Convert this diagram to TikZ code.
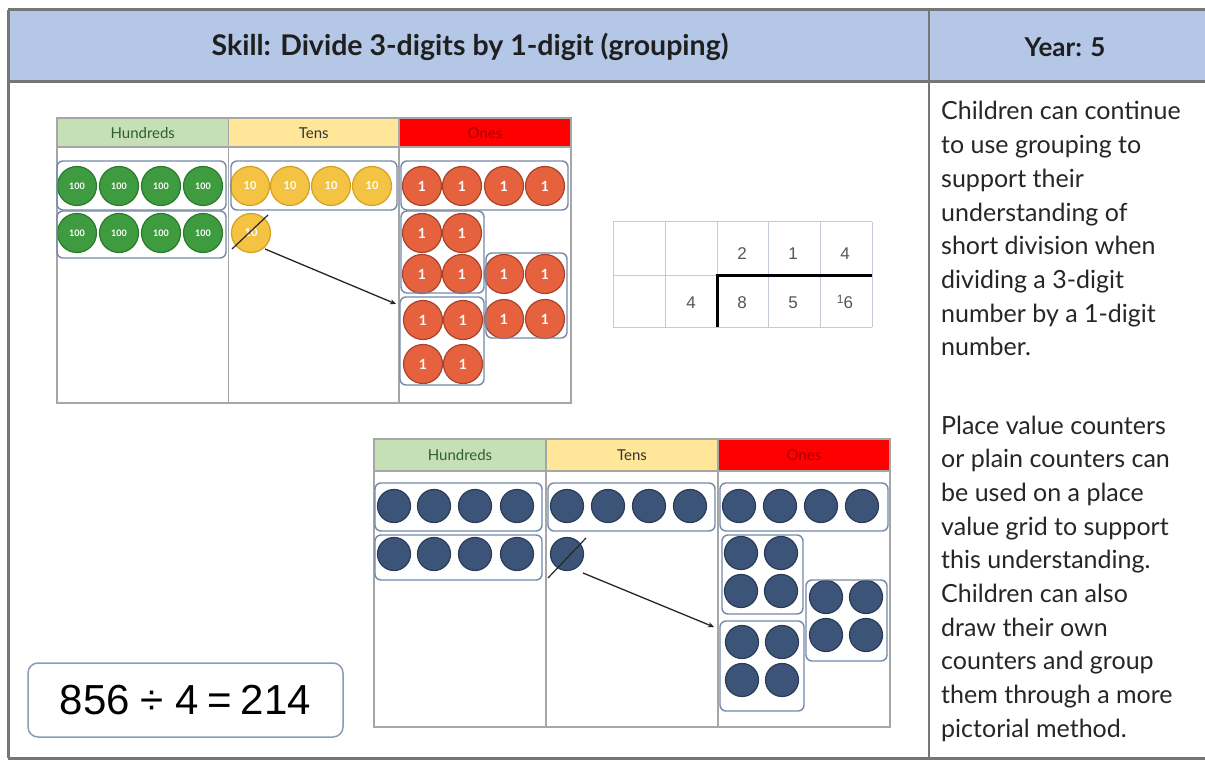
\documentclass[tikz,border=0pt]{standalone}
\usepackage{fontspec}
\setmainfont{Lato}
\newfontfamily\eqfont{Liberation Sans}
\usetikzlibrary{arrows.meta}
\definecolor{hdrblue}{HTML}{B4C7E7}
\definecolor{framegray}{HTML}{767676}
\definecolor{hgreen}{HTML}{C5E0B4}
\definecolor{hyellow}{HTML}{FFE699}
\definecolor{hred}{HTML}{FF0000}
\definecolor{onestext}{HTML}{A50000}
\definecolor{hundtext}{HTML}{2F5F2F}
\definecolor{gridgray}{HTML}{A6A6A6}
\definecolor{grpcol}{HTML}{7489AC}
\definecolor{cgreen}{HTML}{3F9B3F}
\definecolor{cgreendk}{HTML}{2B7A2B}
\definecolor{cyellow}{HTML}{F5C343}
\definecolor{cyellowdk}{HTML}{D6A020}
\definecolor{cred}{HTML}{E6623F}
\definecolor{creddk}{HTML}{A8432B}
\definecolor{cblue}{HTML}{3D5479}
\definecolor{cbluedk}{HTML}{2A3B57}
\definecolor{divgrid}{HTML}{C3CBDA}
\definecolor{divtext}{HTML}{555555}
\definecolor{eqbox}{HTML}{8A9BB5}
\tikzset{
  frameln/.style={draw=framegray,line width=3pt},
  gridln/.style={draw=gridgray,line width=1.5pt},
  grp/.style={draw=grpcol,line width=1.4pt,rounded corners=6pt},
  gc/.style={circle,minimum size=39pt,inner sep=0pt,fill=cgreen,draw=cgreendk,line width=1.2pt,text=white,font=\bfseries\fontsize{9}{9}\selectfont},
  yc/.style={circle,minimum size=39pt,inner sep=0pt,fill=cyellow,draw=cyellowdk,line width=1.2pt,text=white,font=\bfseries\fontsize{11}{11}\selectfont},
  rc/.style={circle,minimum size=39pt,inner sep=0pt,fill=cred,draw=creddk,line width=1.2pt,text=white,font=\bfseries\fontsize{14}{14}\selectfont},
  bc/.style={circle,minimum size=33pt,inner sep=0pt,fill=cblue,draw=cbluedk,line width=1.2pt},
  pvhead/.style={font=\fontsize{15}{15}\selectfont},
  digit/.style={font=\eqfont\fontsize{17}{17}\selectfont,text=divtext,anchor=base},
  desc/.style={anchor=base west,inner sep=0pt,font=\fontsize{25}{25}\selectfont,text=black!85},
  arr/.style={draw=black!85,line width=1.3pt,-{Stealth[length=6pt,width=5pt]}},
  slash/.style={draw=black!85,line width=1.2pt},
}
\begin{document}
\begin{tikzpicture}[x=1pt,y=-1pt]
\useasboundingbox (0,0) rectangle (1205,762);
\fill[white] (0,0) rectangle (1205,762);
% header band
\fill[hdrblue] (8,10) rectangle (1205,82);
\draw[frameln] (8,10) -- (1205,10);
\draw[frameln] (8,82) -- (1205,82);
\draw[frameln] (8,10) -- (8,758);
\draw[frameln] (8,758) -- (1205,758);
\draw[draw=framegray,line width=2pt] (929,10) -- (929,758);
\node[font=\bfseries\fontsize{28.5}{28.5}\selectfont,text=black!88] (title) at (470,47) {Skill: Divide 3-digits by 1-digit (grouping)};
\node[font=\bfseries\fontsize{26}{26}\selectfont,text=black!88] (year) at (1065,47) {Year: 5};

% description text
\foreach \t [count=\i] in {Children can continue,to use grouping to,support their,understanding of,short division when,dividing a 3-digit,number by a 1-digit,number.}
  \node[desc] (pa\i) at (941,{120+(\i-1)*33.7}) {\t};
\foreach \t [count=\i] in {Place value counters,or plain counters can,be used on a place,value grid to support,this understanding.,Children can also,draw their own,counters and group,them through a more,pictorial method.}
  \node[desc] (pb\i) at (941,{434+(\i-1)*33.7}) {\t};

% ===== top place value grid =====
\fill[hgreen] (57,118) rectangle (228.5,147);
\fill[hyellow] (228.5,118) rectangle (399,147);
\fill[hred] (399,118) rectangle (571,147);
\draw[gridln] (57,118) rectangle (571,403);
\draw[gridln] (57,147) -- (571,147);
\draw[gridln] (228.5,118) -- (228.5,403);
\draw[gridln] (399,118) -- (399,403);
\node[pvhead,text=hundtext] (th) at (142.75,133) {Hundreds};
\node[pvhead,text=black!80] (tt) at (313.75,133) {Tens};
\node[pvhead,text=onestext] (to) at (485,133) {Ones};

\foreach \x [count=\i] in {77,119,161,203} {
  \node[gc] (ha\i) at (\x,186) {100};
  \node[gc] (hb\i) at (\x,233) {100};
}
\foreach \x [count=\i] in {250,290,331,372}
  \node[yc] (ta\i) at (\x,186) {10};
\node[yc] (tb1) at (251,233) {10};
\foreach \x [count=\i] in {422,462,504,545}
  \node[rc] (oa\i) at (\x,186) {1};
\foreach \p [count=\i] in {(422,233),(462,233),(422,274),(462,274)}
  \node[rc] (oA\i) at \p {1};
\foreach \p [count=\i] in {(504,274),(545,274),(504,319),(545,319)}
  \node[rc] (oB\i) at \p {1};
\foreach \p [count=\i] in {(423,320),(463,320),(423,364),(463,364)}
  \node[rc] (oC\i) at \p {1};

\draw[grp] (57,161) rectangle (226,210);
\draw[grp] (231,161) rectangle (397,210);
\draw[grp] (401,161) rectangle (568,210);
\draw[grp] (57,211) rectangle (226,258);
\draw[grp] (401,211) rectangle (484,293);
\draw[grp] (486,253) rectangle (567,338);
\draw[grp] (400,297) rectangle (484,385);

\coordinate (s1a) at (232,249);
\coordinate (s1b) at (268,215);
\draw[slash] (s1a) -- (s1b);
\coordinate (a1s) at (265,249);
\coordinate (a1e) at (396,304);
\draw[arr] (a1s) -- (a1e);

% ===== short division table =====
\foreach \x in {613,665,717,768,820,872}
  \draw[divgrid,line width=1pt] (\x,222) -- (\x,327);
\foreach \y in {222,275,327}
  \draw[divgrid,line width=1pt] (613,\y) -- (872,\y);
\draw[black,line width=3pt] (717,327) -- (717,275) -- (872,275);
\node[digit] (q1) at (742,259) {2};
\node[digit] (q2) at (793,259) {1};
\node[digit] (q3) at (845,259) {4};
\node[digit] (dv) at (691,308) {4};
\node[digit] (d1) at (742,308) {8};
\node[digit] (d2) at (793,308) {5};
\node[digit] (d3) at (845,308) {\raisebox{5pt}{\fontsize{12}{12}\selectfont 1}6};

% ===== bottom place value grid =====
\fill[hgreen] (374,439) rectangle (546,471);
\fill[hyellow] (546,439) rectangle (718,471);
\fill[hred] (718,439) rectangle (890,471);
\draw[gridln] (374,439) rectangle (890,727);
\draw[gridln] (374,471) -- (890,471);
\draw[gridln] (546,439) -- (546,727);
\draw[gridln] (718,439) -- (718,727);
\node[pvhead,text=hundtext] (bth) at (460,455) {Hundreds};
\node[pvhead,text=black!80] (btt) at (632,455) {Tens};
\node[pvhead,text=onestext] (bto) at (804,455) {Ones};

\foreach \x [count=\i] in {394,434,475,517} {
  \node[bc] (bha\i) at (\x,506) {};
  \node[bc] (bhb\i) at (\x,554) {};
}
\foreach \x [count=\i] in {567,608,649,690}
  \node[bc] (bta\i) at (\x,506) {};
\node[bc] (btb1) at (567,554) {};
\foreach \x [count=\i] in {739,780,821,862}
  \node[bc] (boa\i) at (\x,506) {};
\foreach \p [count=\i] in {(741,553),(781,553),(741,591),(781,591)}
  \node[bc] (boA\i) at \p {};
\foreach \p [count=\i] in {(826,597),(866,597),(826,635),(866,635)}
  \node[bc] (boB\i) at \p {};
\foreach \p [count=\i] in {(742,642),(782,642),(742,680),(782,680)}
  \node[bc] (boC\i) at \p {};

\draw[grp] (375,483) rectangle (542,531);
\draw[grp] (548,483) rectangle (715,531);
\draw[grp] (720,483) rectangle (888,531);
\draw[grp] (375,535) rectangle (542,580);
\draw[grp] (722,535) rectangle (803,614);
\draw[grp] (806,580) rectangle (887,661);
\draw[grp] (720,621) rectangle (804,711);

\coordinate (s2a) at (548,578);
\coordinate (s2b) at (586,538);
\draw[slash] (s2a) -- (s2b);
\coordinate (a2s) at (583,573);
\coordinate (a2e) at (714,627);
\draw[arr] (a2s) -- (a2e);

% ===== equation =====
\node[draw=eqbox,line width=1.5pt,rounded corners=10pt,minimum width=315pt,minimum height=74pt,inner sep=0pt,font=\eqfont\fontsize{42}{42}\selectfont] (eq) at (185.5,700)
  {856\hspace{11pt}÷\hspace{11pt}4\hspace{9pt}=\hspace{9pt}214};
\end{tikzpicture}
\end{document}
